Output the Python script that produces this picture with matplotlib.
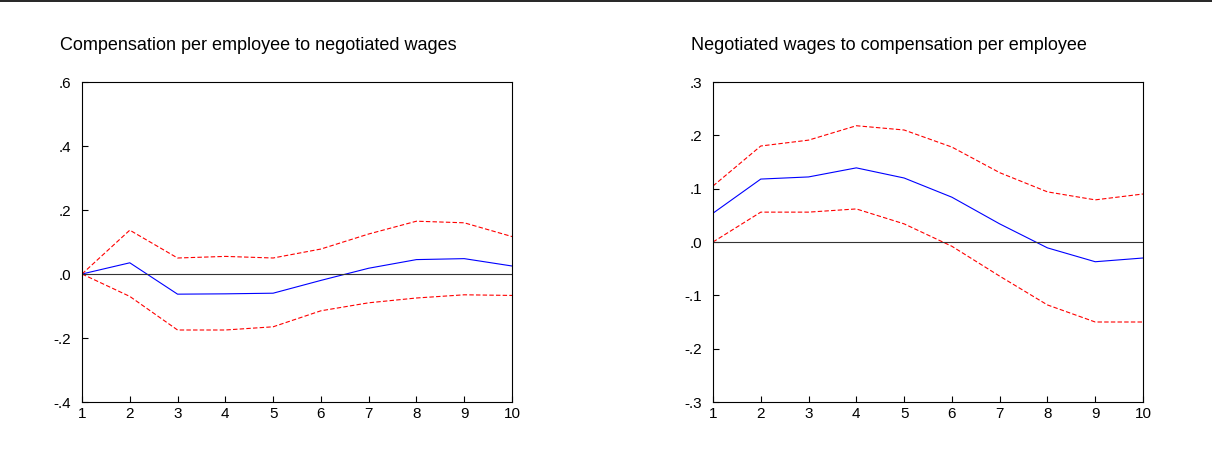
import matplotlib
matplotlib.use("Agg")
import matplotlib.pyplot as plt
from matplotlib.lines import Line2D

steps = list(range(1, 11))

left_title = "Compensation per employee to negotiated wages"
left_mid = [0.0, 0.035, -0.063, -0.062, -0.060, -0.020, 0.018, 0.045, 0.048, 0.025]
left_hi = [0.0, 0.137, 0.050, 0.055, 0.050, 0.078, 0.125, 0.165, 0.160, 0.117]
left_lo = [0.0, -0.070, -0.175, -0.175, -0.165, -0.115, -0.090, -0.075, -0.065, -0.067]
left_ticks = [-0.4, -0.2, 0.0, 0.2, 0.4, 0.6]

right_title = "Negotiated wages to compensation per employee"
right_mid = [0.054, 0.118, 0.122, 0.139, 0.120, 0.084, 0.034, -0.011, -0.037, -0.030]
right_hi = [0.105, 0.180, 0.191, 0.218, 0.210, 0.178, 0.130, 0.094, 0.079, 0.090]
right_lo = [0.0, 0.056, 0.056, 0.062, 0.034, -0.008, -0.064, -0.118, -0.150, -0.150]
right_ticks = [-0.3, -0.2, -0.1, 0.0, 0.1, 0.2, 0.3]

plt.rcParams["font.family"] = ["Liberation Sans", "DejaVu Sans"]

fig = plt.figure(figsize=(12.12, 4.61), dpi=100)
W, H = 1212, 461


def fmt(v):
    s = f"{v:.1f}"
    return s.replace("0.", ".")


def panel(x0, title, mid, hi, lo, ticks):
    ax = fig.add_axes([x0 / W, 1 - 402 / H, 430 / W, 320 / H])
    ax.plot(steps, mid, color="blue", lw=0.8)
    ax.plot(steps, hi, color="red", lw=0.8, ls=(0, (4, 2)))
    ax.plot(steps, lo, color="red", lw=0.8, ls=(0, (4, 2)))
    ax.axhline(0, color="#333333", lw=0.8)
    ax.set_xlim(1, 10)
    ax.set_ylim(ticks[0], ticks[-1])
    ax.set_xticks(steps)
    ax.set_yticks(ticks)
    ax.set_yticklabels([fmt(t) for t in ticks])
    ax.tick_params(direction="in", labelsize=11, length=4, top=False, right=False)
    ax.tick_params(axis="y", pad=8)
    for s in ax.spines.values():
        s.set_linewidth(0.8)
    fig.text((x0 - 22) / W, 1 - 45 / H, title, fontsize=13, va="center")
    return ax


panel(82, left_title, left_mid, left_hi, left_lo, left_ticks)
panel(713, right_title, right_mid, right_hi, right_lo, right_ticks)

# thin frame line along the top edge, as in the exported graph
fig.add_artist(Line2D([0, 1], [0.998, 0.998], color="black", lw=1.2,
                      transform=fig.transFigure))

fig.savefig("out.png", dpi=100)
